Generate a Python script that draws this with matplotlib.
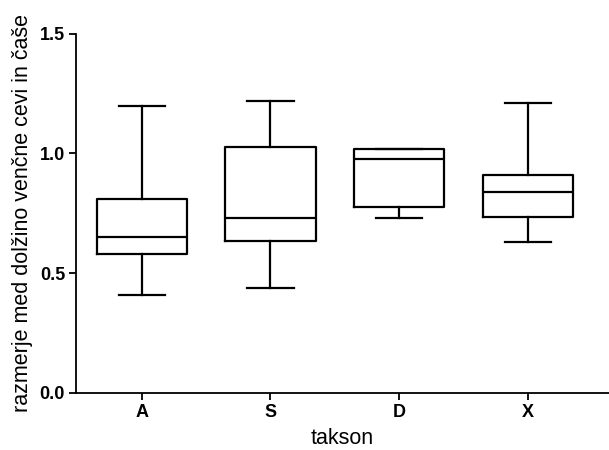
import matplotlib
matplotlib.use('Agg')
import matplotlib.pyplot as plt

plt.rcParams['font.family'] = ['Liberation Sans', 'DejaVu Sans']

# box summary per taxon: whisker low, Q1, median, Q3, whisker high
taxa = ['A', 'S', 'D', 'X']
whislo = [0.41, 0.44, 0.73, 0.63]
q1 = [0.58, 0.635, 0.775, 0.735]
med = [0.65, 0.73, 0.975, 0.84]
q3 = [0.81, 1.025, 1.02, 0.91]
whishi = [1.20, 1.22, 1.02, 1.21]

stats = []
for i in range(len(taxa)):
    stats.append({'label': taxa[i], 'whislo': whislo[i], 'q1': q1[i], 'med': med[i],
                  'q3': q3[i], 'whishi': whishi[i], 'fliers': []})

fig = plt.figure(figsize=(6.09, 4.5), dpi=100)
ax = fig.add_axes([0.125, 0.127, 0.875, 0.798])

lw = 1.6
ax.bxp(stats, positions=range(1, len(taxa) + 1), widths=0.7, showfliers=False,
       boxprops=dict(color='black', linewidth=lw),
       medianprops=dict(color='black', linewidth=lw),
       whiskerprops=dict(color='black', linewidth=lw),
       capprops=dict(color='black', linewidth=lw),
       capwidths=0.36)

ax.set_xlim(0.49, 4.63)
ax.set_ylim(0, 1.5)
ax.set_yticks([0.0, 0.5, 1.0, 1.5])
ax.set_yticklabels(['0.0', '0.5', '1.0', '1.5'])
ax.set_xticks(range(1, len(taxa) + 1))
ax.set_xticklabels(taxa)

for s in ['top', 'right']:
    ax.spines[s].set_visible(False)
for s in ['left', 'bottom']:
    ax.spines[s].set_linewidth(1.3)
ax.tick_params(axis='both', width=1.3, length=5, labelsize=13, pad=3)
for lab in ax.get_xticklabels() + ax.get_yticklabels():
    lab.set_fontweight('bold')

ax.set_xlabel('takson', fontsize=15.5, labelpad=5)
ax.set_ylabel('razmerje med dolžino venčne cevi in čaše', fontsize=15.5, labelpad=5)

fig.savefig('out.png', dpi=100)
